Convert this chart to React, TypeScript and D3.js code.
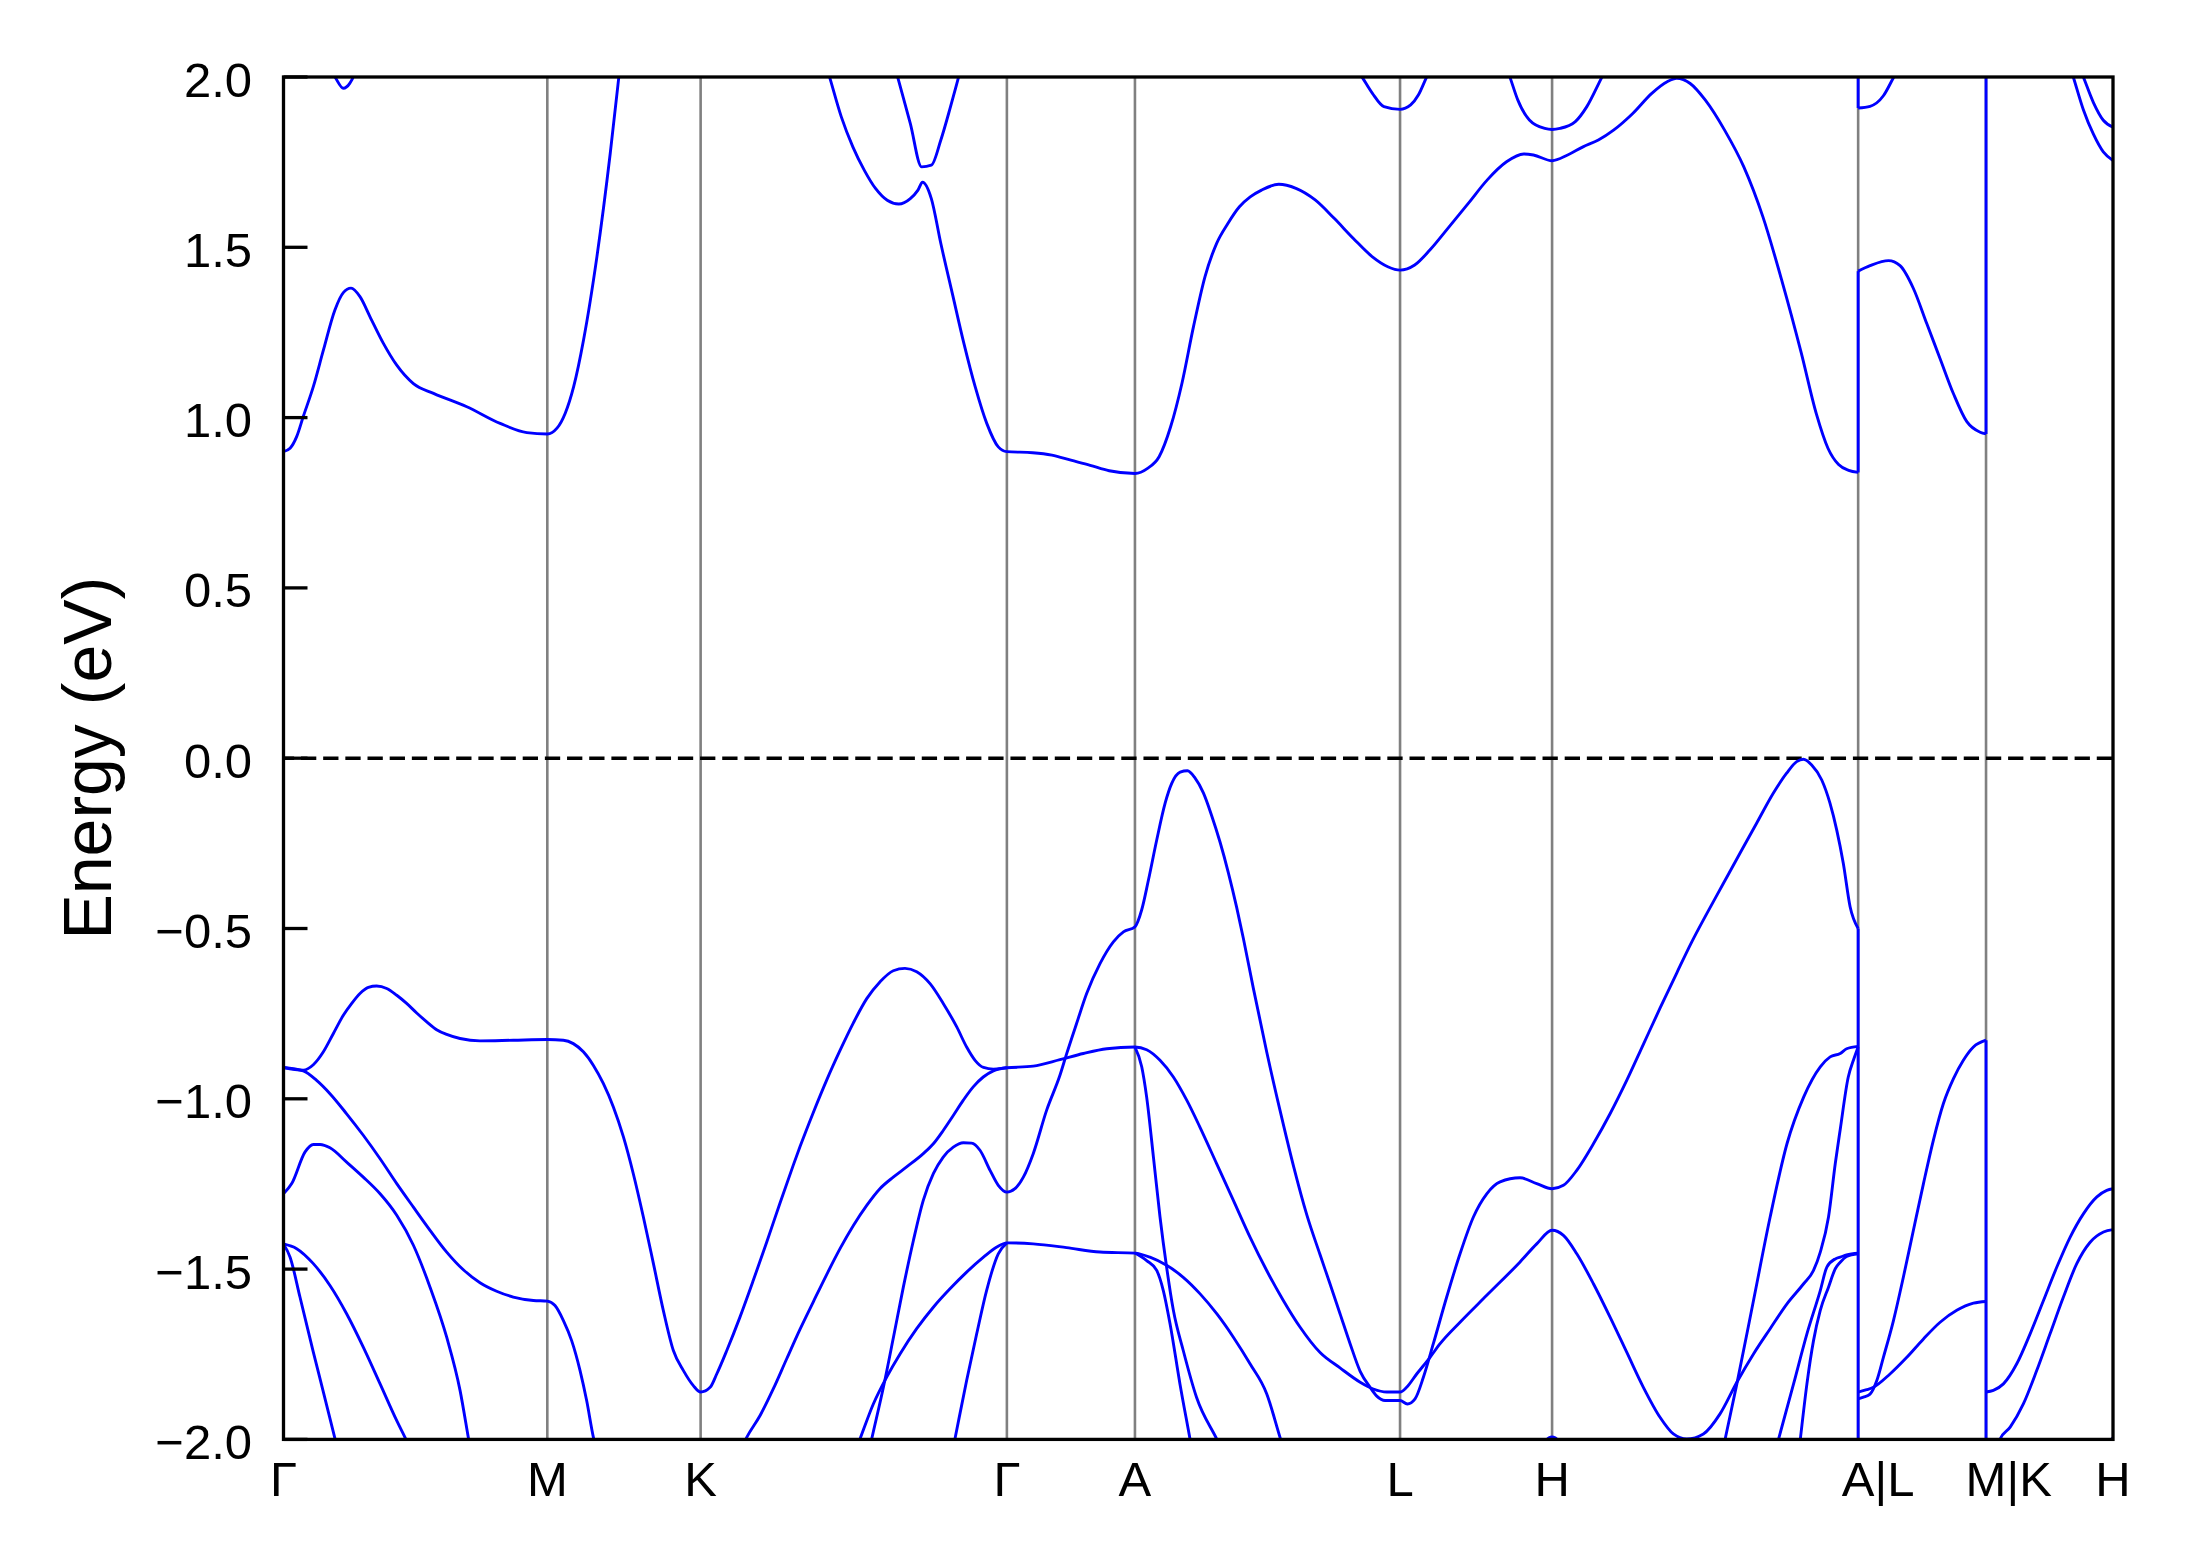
import React from 'react';
import * as d3 from 'd3';

type P = [number, number];

// High-symmetry path positions (fraction of total k-path length) and labels
const kTicks: number[] = [0, 0.1442, 0.228, 0.3954, 0.4654, 0.6103, 0.6934, 0.8607, 0.9306, 1.0];
const kLabels: string[] = ['Γ', 'M', 'K', 'Γ', 'A', 'L', 'H', 'A|L', 'M|K', 'H'];
const eTicks: number[] = [2.0, 1.5, 1.0, 0.5, 0.0, -0.5, -1.0, -1.5, -2.0];

// ---------- conduction bands ----------
const cbGammaM: P[] = [[0,0.90],[0.0036,0.910],[0.0072,0.944],[0.0108,1.003],[0.0163,1.091],[0.0218,1.198],[0.0281,1.316],[0.0327,1.367],[0.0369,1.380],[0.0418,1.355],[0.0473,1.296],[0.0546,1.218],[0.0619,1.154],[0.0710,1.100],[0.0820,1.071],[0.1002,1.032],[0.1184,0.983],[0.1330,0.956],[0.1442,0.952],[0.1495,0.969],[0.1540,1.013],[0.1586,1.091],[0.1640,1.228],[0.1713,1.472],[0.1786,1.776],[0.1832,1.996],[0.1843,2.05]];
const cbTopGamma: P[] = [[0.0260,2.015],[0.0281,2.0],[0.0327,1.967],[0.0363,1.982],[0.0381,2.0],[0.0390,2.015]];
const cbMain: P[] = [[0.2957,2.05],[0.2987,1.996],[0.3049,1.883],[0.3112,1.795],[0.3175,1.726],[0.3237,1.672],[0.3300,1.638],[0.3363,1.627],[0.3426,1.643],[0.3468,1.668],[0.3493,1.691],[0.3541,1.643],[0.3593,1.511],[0.3656,1.364],[0.3719,1.218],[0.3781,1.090],[0.3844,0.983],[0.3907,0.914],[0.3954,0.900],[0.4095,0.897],[0.4200,0.890],[0.4304,0.875],[0.4409,0.860],[0.4513,0.844],[0.4654,0.836],[0.4723,0.851],[0.4786,0.885],[0.4849,0.973],[0.4911,1.101],[0.4974,1.267],[0.5037,1.414],[0.5100,1.511],[0.5162,1.570],[0.5225,1.619],[0.5284,1.648],[0.5346,1.668],[0.5440,1.685],[0.5534,1.673],[0.5639,1.639],[0.5743,1.585],[0.5848,1.526],[0.5952,1.472],[0.6036,1.443],[0.6103,1.433],[0.6183,1.448],[0.6266,1.492],[0.6371,1.560],[0.6476,1.629],[0.6580,1.698],[0.6685,1.751],[0.6779,1.774],[0.6832,1.771],[0.6934,1.754],[0.7019,1.771],[0.7103,1.795],[0.7187,1.815],[0.7270,1.844],[0.7375,1.893],[0.7479,1.952],[0.7563,1.986],[0.7615,1.996],[0.7689,1.981],[0.7772,1.932],[0.7877,1.844],[0.7982,1.736],[0.8086,1.590],[0.8191,1.400],[0.8296,1.190],[0.8379,1.010],[0.8442,0.910],[0.8500,0.862],[0.8555,0.845],[0.8607,0.839]];
const cbKGammaUpper: P[] = [[0.3332,2.05],[0.3359,1.996],[0.3426,1.864],[0.3488,1.736],[0.3541,1.741],[0.3593,1.815],[0.3646,1.913],[0.3688,1.996],[0.3715,2.05]];
const cbLUpper: P[] = [[0.5836,2.05],[0.5900,1.996],[0.5952,1.952],[0.6015,1.913],[0.6103,1.905],[0.6161,1.918],[0.6203,1.947],[0.6245,1.996],[0.6291,2.05]];
const cbHUpper: P[] = [[0.6671,2.05],[0.6706,1.996],[0.6747,1.932],[0.6810,1.874],[0.6894,1.849],[0.6934,1.846],[0.6977,1.849],[0.7061,1.869],[0.7124,1.913],[0.7203,1.996],[0.7254,2.05]];
const cbLMUpper: P[] = [[0.8607,1.909],[0.8672,1.914],[0.8745,1.945],[0.8799,1.997],[0.8854,2.05]];
const cbLM: P[] = [[0.8607,1.430],[0.8672,1.446],[0.8773,1.461],[0.8836,1.446],[0.8909,1.379],[0.8982,1.276],[0.9055,1.173],[0.9128,1.070],[0.9201,0.988],[0.9274,0.957],[0.9306,0.952]];
const cbKH1: P[] = [[0.9754,2.05],[0.9783,2.0],[0.9838,1.904],[0.9893,1.832],[0.9947,1.780],[1.0,1.755]];
const cbKH2: P[] = [[0.9801,2.05],[0.9838,2.0],[0.9893,1.925],[0.9947,1.873],[1.0,1.853]];

// ---------- valence bands ----------
const vbTop: P[] = [[0.3194,-2.05],[0.3215,-1.999],[0.3279,-1.847],[0.3334,-1.700],[0.3388,-1.553],[0.3443,-1.416],[0.3497,-1.298],[0.3552,-1.220],[0.3606,-1.171],[0.3661,-1.142],[0.3716,-1.129],[0.3761,-1.130],[0.3807,-1.151],[0.3862,-1.210],[0.3907,-1.254],[0.3954,-1.274],[0.3998,-1.264],[0.4044,-1.230],[0.4098,-1.161],[0.4171,-1.034],[0.4244,-0.931],[0.4280,-0.869],[0.4335,-0.779],[0.4390,-0.691],[0.4463,-0.603],[0.4536,-0.539],[0.4591,-0.510],[0.4654,-0.495],[0.4691,-0.445],[0.4728,-0.357],[0.4773,-0.240],[0.4819,-0.132],[0.4855,-0.074],[0.4901,-0.041],[0.4941,-0.037],[0.4982,-0.058],[0.5028,-0.102],[0.5073,-0.168],[0.5119,-0.246],[0.5164,-0.335],[0.5210,-0.438],[0.5247,-0.530],[0.5301,-0.675],[0.5374,-0.862],[0.5447,-1.034],[0.5520,-1.196],[0.5593,-1.340],[0.5666,-1.458],[0.5720,-1.543],[0.5775,-1.631],[0.5830,-1.719],[0.5885,-1.800],[0.5939,-1.847],[0.5976,-1.873],[0.6021,-1.886],[0.6103,-1.886],[0.6143,-1.896],[0.6185,-1.881],[0.6231,-1.817],[0.6285,-1.719],[0.6358,-1.582],[0.6431,-1.455],[0.6504,-1.347],[0.6577,-1.279],[0.6650,-1.244],[0.6759,-1.232],[0.6850,-1.249],[0.6934,-1.264],[0.6996,-1.254],[0.7069,-1.210],[0.7160,-1.132],[0.7251,-1.044],[0.7342,-0.946],[0.7433,-0.840],[0.7524,-0.734],[0.7616,-0.630],[0.7697,-0.540],[0.7779,-0.457],[0.7870,-0.368],[0.7961,-0.279],[0.8052,-0.191],[0.8143,-0.103],[0.8216,-0.044],[0.8271,-0.010],[0.8308,-0.003],[0.8353,-0.020],[0.8408,-0.064],[0.8453,-0.132],[0.8490,-0.211],[0.8526,-0.309],[0.8563,-0.436],[0.8607,-0.500]];
const vbSecond: P[] = [[0,-0.908],[0.0108,-0.916],[0.0163,-0.900],[0.0218,-0.862],[0.0272,-0.809],[0.0327,-0.755],[0.0373,-0.720],[0.0418,-0.691],[0.0464,-0.673],[0.0509,-0.669],[0.0564,-0.676],[0.0619,-0.696],[0.0673,-0.720],[0.0728,-0.748],[0.0783,-0.774],[0.0837,-0.797],[0.0892,-0.811],[0.0965,-0.823],[0.1074,-0.830],[0.1256,-0.828],[0.1442,-0.826],[0.1530,-0.828],[0.1584,-0.838],[0.1639,-0.862],[0.1694,-0.902],[0.1748,-0.955],[0.1803,-1.024],[0.1858,-1.112],[0.1912,-1.220],[0.1967,-1.347],[0.2022,-1.484],[0.2076,-1.621],[0.2131,-1.739],[0.2186,-1.798],[0.2240,-1.842],[0.2280,-1.861],[0.2332,-1.847],[0.2368,-1.808],[0.2423,-1.739],[0.2495,-1.641],[0.2568,-1.533],[0.2641,-1.421],[0.2714,-1.306],[0.2787,-1.194],[0.2823,-1.141],[0.2896,-1.040],[0.2969,-0.945],[0.3042,-0.858],[0.3115,-0.777],[0.3188,-0.706],[0.3260,-0.657],[0.3333,-0.624],[0.3397,-0.617],[0.3461,-0.627],[0.3534,-0.662],[0.3606,-0.720],[0.3680,-0.789],[0.3734,-0.848],[0.3780,-0.887],[0.3826,-0.908],[0.3880,-0.913],[0.3954,-0.909],[0.4098,-0.904],[0.4244,-0.885],[0.4372,-0.867],[0.4500,-0.853],[0.4654,-0.848],[0.4718,-0.856],[0.4791,-0.887],[0.4864,-0.936],[0.4937,-1.004],[0.5009,-1.083],[0.5101,-1.191],[0.5192,-1.298],[0.5283,-1.406],[0.5374,-1.504],[0.5465,-1.592],[0.5556,-1.670],[0.5666,-1.745],[0.5775,-1.790],[0.5885,-1.832],[0.5957,-1.852],[0.6030,-1.861],[0.6103,-1.861],[0.6139,-1.847],[0.6194,-1.808],[0.6267,-1.759],[0.6322,-1.719],[0.6431,-1.656],[0.6577,-1.577],[0.6759,-1.479],[0.6850,-1.426],[0.6934,-1.386],[0.6996,-1.401],[0.7069,-1.455],[0.7160,-1.543],[0.7251,-1.641],[0.7342,-1.744],[0.7433,-1.847],[0.7524,-1.935],[0.7597,-1.984],[0.7670,-1.999],[0.7761,-1.984],[0.7852,-1.925],[0.7944,-1.832],[0.8035,-1.749],[0.8126,-1.675],[0.8218,-1.602],[0.8309,-1.543],[0.8363,-1.504],[0.8400,-1.450],[0.8445,-1.347],[0.8482,-1.190],[0.8509,-1.090],[0.8553,-0.936],[0.8581,-0.887],[0.8607,-0.848]];
const vbGM2: P[] = [[0,-0.908],[0.0108,-0.918],[0.0181,-0.946],[0.0254,-0.985],[0.0345,-1.044],[0.0436,-1.107],[0.0528,-1.176],[0.0619,-1.249],[0.0710,-1.318],[0.0801,-1.386],[0.0892,-1.450],[0.0983,-1.502],[0.1074,-1.540],[0.1165,-1.565],[0.1256,-1.582],[0.1366,-1.592],[0.1442,-1.594],[0.1484,-1.607],[0.1530,-1.651],[0.1575,-1.710],[0.1621,-1.798],[0.1657,-1.886],[0.1694,-1.994],[0.1721,-2.05]];
const vbGM3: P[] = [[0,-1.279],[0.0045,-1.249],[0.0118,-1.156],[0.0163,-1.134],[0.0200,-1.134],[0.0254,-1.144],[0.0345,-1.186],[0.0436,-1.230],[0.0528,-1.279],[0.0619,-1.342],[0.0710,-1.430],[0.0801,-1.553],[0.0892,-1.700],[0.0965,-1.856],[0.1010,-1.994],[0.1028,-2.05]];
const vbGM4: P[] = [[0,-1.426],[0.0072,-1.440],[0.0163,-1.484],[0.0254,-1.548],[0.0345,-1.631],[0.0436,-1.729],[0.0528,-1.837],[0.0619,-1.945],[0.0664,-1.994],[0.0715,-2.05]];
const vbGM5: P[] = [[0,-1.426],[0.0036,-1.465],[0.0090,-1.582],[0.0163,-1.744],[0.0218,-1.861],[0.0282,-1.999],[0.0306,-2.05]];
const vbKG6: P[] = [[0.2485,-2.05],[0.2532,-1.994],[0.2605,-1.930],[0.2677,-1.852],[0.2750,-1.764],[0.2823,-1.677],[0.2896,-1.596],[0.2969,-1.516],[0.3042,-1.440],[0.3115,-1.372],[0.3188,-1.313],[0.3260,-1.264],[0.3333,-1.230],[0.3406,-1.200],[0.3497,-1.161],[0.3552,-1.132],[0.3606,-1.093],[0.3661,-1.049],[0.3716,-1.004],[0.3770,-0.965],[0.3825,-0.936],[0.3880,-0.918],[0.3954,-0.909]];
const vbKG8: P[] = [[0.3115,-2.05],[0.3151,-1.999],[0.3224,-1.896],[0.3297,-1.817],[0.3370,-1.749],[0.3461,-1.675],[0.3552,-1.612],[0.3643,-1.558],[0.3734,-1.509],[0.3826,-1.465],[0.3899,-1.435],[0.3954,-1.423],[0.4098,-1.426],[0.4280,-1.437],[0.4463,-1.450],[0.4654,-1.453],[0.4736,-1.465],[0.4827,-1.489],[0.4918,-1.524],[0.5009,-1.572],[0.5101,-1.631],[0.5192,-1.700],[0.5283,-1.778],[0.5374,-1.866],[0.5447,-1.994],[0.5479,-2.05]];
const vbKG9: P[] = [[0.3651,-2.05],[0.3670,-1.999],[0.3734,-1.827],[0.3789,-1.690],[0.3843,-1.563],[0.3907,-1.455],[0.3954,-1.423]];
const vbAL4: P[] = [[0.4654,-1.453],[0.4718,-1.475],[0.4773,-1.504],[0.4809,-1.563],[0.4846,-1.661],[0.4900,-1.837],[0.4955,-1.999],[0.4972,-2.05]];
const vbAL5: P[] = [[0.4654,-0.848],[0.4691,-0.906],[0.4718,-0.995],[0.4755,-1.171],[0.4791,-1.347],[0.4827,-1.494],[0.4864,-1.621],[0.4918,-1.739],[0.4991,-1.877],[0.5101,-1.999],[0.5147,-2.05]];
const vbHAb: P[] = [[0.7860,-2.05],[0.7880,-1.999],[0.7944,-1.837],[0.8035,-1.592],[0.8126,-1.347],[0.8218,-1.132],[0.8309,-0.995],[0.8400,-0.906],[0.8454,-0.877],[0.8509,-0.867],[0.8544,-0.853],[0.8607,-0.846]];
const vbHAc: P[] = [[0.8146,-2.05],[0.8172,-1.999],[0.8254,-1.837],[0.8327,-1.690],[0.8400,-1.563],[0.8436,-1.494],[0.8482,-1.470],[0.8509,-1.465],[0.8544,-1.458],[0.8607,-1.453]];
const vbHAd: P[] = [[0.8280,-2.05],[0.8291,-1.999],[0.8327,-1.837],[0.8363,-1.710],[0.8400,-1.621],[0.8445,-1.553],[0.8482,-1.499],[0.8509,-1.480],[0.8544,-1.463],[0.8607,-1.455]];
const vbHdip: P[] = [[0.6860,-2.03],[0.6934,-1.993],[0.7008,-2.03]];
const vbHdipEnd: P[] = [[0.9940,-2.03],[1.0,-1.995]];
const vbLM1: P[] = [[0.8607,-1.861],[0.8654,-1.854],[0.8690,-1.847],[0.8781,-1.808],[0.8873,-1.759],[0.8964,-1.705],[0.9055,-1.656],[0.9146,-1.621],[0.9237,-1.600],[0.9306,-1.595]];
const vbLM2: P[] = [[0.8607,-1.881],[0.8636,-1.876],[0.8672,-1.867],[0.8709,-1.827],[0.8745,-1.759],[0.8800,-1.651],[0.8854,-1.524],[0.8909,-1.386],[0.8964,-1.249],[0.9018,-1.122],[0.9073,-1.014],[0.9128,-0.941],[0.9182,-0.887],[0.9237,-0.848],[0.9306,-0.828]];
const vbKH1: P[] = [[0.9306,-1.861],[0.9346,-1.856],[0.9401,-1.837],[0.9474,-1.778],[0.9547,-1.690],[0.9620,-1.592],[0.9693,-1.494],[0.9766,-1.406],[0.9839,-1.337],[0.9912,-1.288],[0.9966,-1.269],[1.0,-1.264]];
const vbKH2: P[] = [[0.9360,-2.05],[0.9383,-1.999],[0.9438,-1.964],[0.9510,-1.896],[0.9583,-1.798],[0.9656,-1.690],[0.9729,-1.582],[0.9802,-1.484],[0.9875,-1.421],[0.9948,-1.391],[1.0,-1.384]];

// band discontinuities at A|L and M|K: [k, E from, E to]
const jumps: [number, number, number][] = [[0.8607,0.839,1.43],[0.8607,1.909,2.05],[0.8607,-0.5,-2.05],[0.9306,0.952,2.05],[0.9306,-0.828,-2.05]];

const bands: P[][] = [cbGammaM, cbTopGamma, cbMain, cbKGammaUpper, cbLUpper, cbHUpper, cbLMUpper, cbLM, cbKH1, cbKH2,
  vbTop, vbSecond, vbGM2, vbGM3, vbGM4, vbGM5, vbKG6, vbKG8, vbKG9, vbAL4, vbAL5, vbHAb, vbHAc, vbHAd, vbHdip, vbHdipEnd,
  vbLM1, vbLM2, vbKH1, vbKH2];

const FIRST_CHAR_EM: Record<string, number> = { A: 0.667, M: 0.833 };

export default function App() {
  const W = 2191, H = 1567;
  const left = 283.5, right = 2113, top = 77, bottom = 1439.4;
  const x = d3.scaleLinear().domain([0, 1]).range([left, right]);
  const y = d3.scaleLinear().domain([-2, 2]).range([bottom, top]);
  const line = d3.line<P>().x(d => x(d[0])).y(d => y(d[1])).curve(d3.curveMonotoneX);
  const fmt = d3.format('.1f');
  const font = 'Liberation Sans, Arial, Helvetica, sans-serif';
  const tickFont = 49;
  const blue = '#0000ff';

  return (
    <svg width={W} height={H} viewBox={`0 0 ${W} ${H}`} style={{ position: 'absolute', left: 0, top: 0, background: '#fff' }} fontFamily={font}>
      <rect x={0} y={0} width={W} height={H} fill="#fff" />
      <defs>
        <clipPath id="plotClip">
          <rect x={left} y={top} width={right - left} height={bottom - top} />
        </clipPath>
      </defs>
      {/* high-symmetry vertical lines */}
      {kTicks.slice(1, -1).map((k, i) => (
        <line key={'v' + i} x1={x(k)} x2={x(k)} y1={top} y2={bottom} stroke="#808080" strokeWidth={2.6} />
      ))}
      {/* Fermi level */}
      <line x1={left} x2={right} y1={y(0)} y2={y(0)} stroke="#000" strokeWidth={3.6} strokeDasharray="15.3 6.87" strokeDashoffset={4.67} />
      <g clipPath="url(#plotClip)" fill="none" stroke={blue} strokeWidth={2.9} strokeLinejoin="round">
        {bands.map((b, i) => (
          <path key={'b' + i} d={line(b) || ''} />
        ))}
        {jumps.map((j, i) => (
          <line key={'j' + i} x1={x(j[0])} x2={x(j[0])} y1={y(j[1])} y2={y(j[2])} />
        ))}
      </g>
      {/* frame */}
      <rect x={left} y={top} width={right - left} height={bottom - top} fill="none" stroke="#000" strokeWidth={3.3} />
      {/* y ticks */}
      {eTicks.map((e, i) => (
        <g key={'yt' + i}>
          <line x1={left} x2={left + 24} y1={y(e)} y2={y(e)} stroke="#000" strokeWidth={3.3} />
          <text x={252} y={y(e) + 19.5} textAnchor="end" fontSize={tickFont} fill="#000">{fmt(e)}</text>
        </g>
      ))}
      {/* x labels */}
      {kTicks.map((k, i) => {
        const lab = kLabels[i];
        if (lab.includes('|')) {
          const w = (FIRST_CHAR_EM[lab[0]] || 0.667) * tickFont;
          return <text key={'xl' + i} x={x(k) - w / 2} y={1496} textAnchor="start" fontSize={tickFont} fill="#000">{lab}</text>;
        }
        return <text key={'xl' + i} x={x(k)} y={1496} textAnchor="middle" fontSize={tickFont} fill="#000">{lab}</text>;
      })}
      <text transform={`translate(111, ${(top + bottom) / 2}) rotate(-90)`} textAnchor="middle" fontSize={68} fill="#000">Energy (eV)</text>
    </svg>
  );
}
